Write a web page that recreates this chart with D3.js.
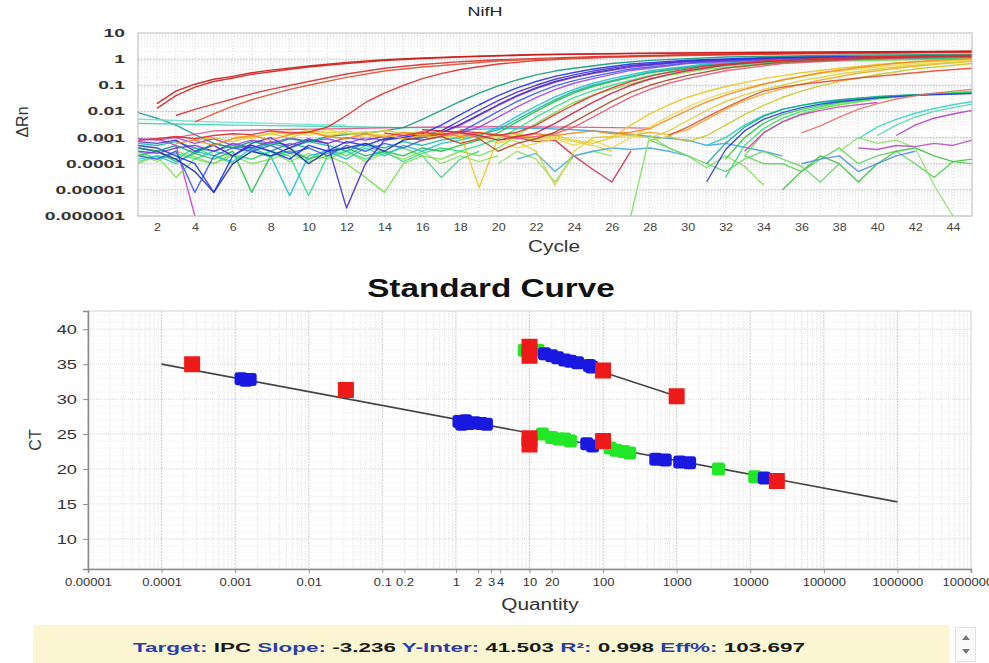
<!DOCTYPE html>
<html>
<head>
<meta charset="utf-8">
<script src="https://cdn.jsdelivr.net/npm/d3@7"></script>
<style>
  body { margin: 0; background: #fff; }
  svg { display: block; font-family: "Liberation Sans", Arial, sans-serif; }
</style>
</head>
<body>
<svg id="chart" width="989" height="663"></svg>
<script>
(function(){

  //---- amplification plot data: [cycle, deltaRn] per well ----
  var ampRuns = [
    [[1,2.5e-4],[2,1.2e-4],[3,3e-4],[4,1.8e-4],[5,1e-4],[6,2.5e-4],[7,1.5e-4],[8,3e-4],[9,1.2e-4],[10,2.5e-4],[11,1.5e-4],[12,3e-4],[13,1.2e-4],[14,2.5e-4],[15,1.5e-4],[16,3e-4],[17,1e-4],[18,2e-4],[19,1.2e-4],[20,2e-4]],
    [[1,1.2e-4],[2,2e-4],[3,1.5e-4],[4,4e-4],[5,2e-4],[6,1e-4],[7,3e-4],[8,1.8e-4],[9,4e-4],[10,1.5e-4],[11,3.5e-4],[12,2e-4],[13,5e-4],[14,2.5e-4],[15,4e-4],[16,2e-4],[17,3e-5],[18,1.5e-4],[19,3e-4]],
    [[1,8e-4],[2,9e-4],[3,5e-4],[4,1e-6]],
    [[1,9e-3],[2,5.5e-3],[3,3e-3],[4,1.3e-3],[5,6e-4],[6,4e-4],[7,5e-4],[8,3e-4],[9,6e-4],[10,4e-4]],
    [[1,5e-3],[2,4.8e-3],[4,4.2e-3],[6,3.8e-3],[8,3.5e-3],[10,3.2e-3],[12,3e-3]],
    [[1,3.5e-3],[3,3.3e-3],[6,3e-3],[9,2.8e-3],[12,2.6e-3],[15,2.4e-3],[18,2.4e-3]],
    [[3,1e-3],[5,1.8e-3],[8,2e-3],[12,2.2e-3],[16,2.5e-3],[20,2.6e-3],[24,2.5e-3],[28,2.3e-3]],
    [[20,8e-4],[21,1e-3],[22,7e-4],[23,8e-4],[24,2e-4],[25,6e-5],[26,2e-5],[27,3e-4]],
    [[18,2e-3],[20,2.2e-3],[22,2.3e-3],[24,2e-3],[26,1.6e-3],[28,1.1e-3],[30,8e-4],[31,5e-4],[32,6e-4],[34,3e-4],[35,2e-4]],
    [[16,1e-3],[17,1.3e-3],[18,9e-4],[19,1.1e-3],[20,6e-4],[21,1.2e-3],[22,8e-4],[23,1e-3],[24,7e-4],[25,5e-4],[26,3e-4]],
    [[20,1e-4],[21,3e-4],[22,1.5e-4],[23,2e-5],[24,2e-4],[25,3e-4],[26,2e-4]],
    [[21,1.5e-4],[22,2.5e-4],[23,5e-5],[24,2e-4],[25,3e-4],[26,4e-4],[27,3.5e-4],[28,4e-4],[29,3e-4],[30,2e-4]],
    [[27,1e-6],[28,1.2e-3],[29,4e-4],[30,2e-4],[31,7e-5],[32,2e-4],[33,8e-5],[34,1.5e-5]],
    [[33,2e-4],[34,1e-4],[35,1e-4],[36,5e-5],[37,1.5e-4],[38,4e-4],[39,1e-4],[40,2e-4],[41,3e-4],[42,1e-4],[43,3e-5],[44,1.2e-4],[45,1e-4]],
    [[35,1e-5],[36,5e-5],[37,2e-4],[38,1e-4],[39,2e-5],[40,1e-4],[41,3e-4],[42,4e-4],[43,2e-4],[44,1.2e-4],[45,1.5e-4]],
    [[38,3e-4],[39,1e-3],[40,6e-4],[41,8e-4],[42,4e-4],[43,1.5e-5],[44,1e-6]],
    [[28,8e-4],[29,4e-4],[30,2e-4],[31,1e-4],[32,5e-5],[33,1.5e-4],[34,3e-4],[35,1.5e-4],[36,8e-5],[37,2e-5],[38,1e-4],[39,2e-5]],
    [[39,4e-4],[40,3.5e-4],[41,5e-4],[42,4.5e-4],[43,6e-4],[44,5e-4],[45,8e-4]],
    [[36,1e-4],[37,1.5e-4],[38,2e-4],[39,5e-5],[40,1e-4],[41,2e-4],[42,3e-4]],
    [[1,1e-4],[2,2e-4],[3,3e-5],[4,1.5e-4],[5,1e-4],[6,2e-4],[7,1e-4],[8,1.5e-4],[9,2.5e-4],[10,1.2e-4],[11,2e-4],[12,1e-4],[13,3e-5],[14,8e-6],[15,1e-4],[16,2e-4],[17,1.5e-4],[18,3e-4],[19,2e-4],[20,4e-4],[21,1.2e-3],[22,3.5e-3],[23,.009],[24,.022],[25,.042],[26,.07],[28,.18],[31,.42],[36,.8],[45,1.05]],
    [[1,3e-4],[2,1.5e-4],[3,2.5e-4],[4,1.5e-4],[5,3e-4],[6,2e-4],[7,1.5e-4],[8,3e-4],[9,2e-4],[10,6e-6],[11,2e-4],[12,3e-4],[13,1.5e-4],[14,3e-4],[15,1.2e-4],[16,2.5e-4],[17,4e-4],[18,3e-4],[19,5e-4],[20,9e-4],[21,2.2e-3],[22,6e-3],[23,.015],[24,.034],[25,.062],[26,.1],[28,.24],[31,.5],[36,.88],[45,1.1]],
    [[1,2e-4],[2,3e-4],[3,1.2e-4],[4,2.5e-4],[5,1.5e-4],[6,3e-4],[7,8e-6],[8,2e-4],[9,3e-4],[10,1.5e-4],[11,2.5e-4],[12,4e-4],[13,2e-4],[14,3e-4],[15,2e-4],[16,4e-4],[17,3e-4],[18,5e-4],[19,8e-4],[20,1.5e-3],[21,4e-3],[22,.01],[23,.024],[24,.05],[25,.09],[26,.14],[28,.3],[31,.58],[36,.95],[45,1.15]],
    [[1,1.5e-4],[2,2e-4],[3,1e-4],[4,3e-4],[5,2e-4],[6,1.2e-4],[7,4e-4],[8,2e-4],[9,6e-6],[10,2e-4],[11,3e-4],[12,1.5e-4],[13,4e-4],[14,2e-4],[15,5e-4],[16,3e-4],[17,6e-4],[18,8e-4],[19,1.2e-3],[20,2.5e-3],[21,6.5e-3],[22,.016],[23,.036],[24,.07],[25,.12],[26,.18],[28,.36],[31,.65],[36,1.0],[45,1.2]],
    [[1,6e-4],[2,5e-4],[3,7e-4],[4,4e-4],[5,3e-4],[6,5e-4],[7,3.5e-4],[8,6e-4],[9,4e-4],[10,7e-4],[11,5e-4],[12,3e-4],[13,6e-4],[14,4e-4],[15,7e-4],[16,5e-4],[17,8e-4],[18,1e-3],[19,1.3e-3],[20,2e-3],[21,5e-3],[22,.012],[23,.028],[24,.058],[25,.1],[26,.15],[28,.32],[31,.6],[36,.97],[45,1.2]],
    [[1,4e-4],[2,3e-4],[3,1.5e-4],[4,5e-5],[5,8e-6],[6,1e-4],[7,3e-4],[8,2e-4],[9,4e-4],[10,1e-4],[11,3e-4],[12,4e-4],[13,6e-4],[14,3e-4],[15,8e-4],[16,1e-3],[17,1.5e-3],[18,3.2e-3],[19,7.5e-3],[20,.018],[21,.04],[22,.08],[23,.14],[24,.21],[25,.3],[27,.52],[30,.82],[35,1.12],[45,1.3]],
    [[1,9e-4],[2,8e-4],[3,1e-3],[4,6e-4],[5,9e-4],[6,5e-4],[7,8e-4],[8,6e-4],[9,1e-3],[10,7e-4],[11,9e-4],[12,6e-4],[13,1e-3],[14,8e-4],[15,1.2e-3],[16,1e-3],[17,1.3e-3],[18,1.5e-3],[19,2.5e-3],[20,6e-3],[21,.015],[22,.034],[23,.068],[24,.12],[25,.18],[27,.37],[30,.68],[35,1.0],[45,1.25]],
    [[1,2e-4],[2,1.5e-4],[3,3e-4],[4,8e-6],[5,2e-4],[6,4e-4],[7,3e-4],[8,5e-4],[9,2.5e-4],[10,4e-4],[11,2e-4],[12,5e-4],[13,3e-4],[14,6e-4],[15,4e-4],[16,8e-4],[17,1.1e-3],[18,1.6e-3],[19,4e-3],[20,.01],[21,.024],[22,.05],[23,.095],[24,.15],[25,.22],[27,.42],[30,.72],[35,1.05],[45,1.25]],
    [[1,3e-4],[2,2.5e-4],[3,4e-4],[4,5e-4],[5,3e-4],[6,6e-4],[7,4e-4],[8,7e-4],[9,5e-4],[10,9e-4],[11,6e-4],[12,1e-3],[13,8e-4],[14,1.1e-3],[15,9e-4],[16,1.2e-3],[17,1.5e-3],[18,3e-3],[19,7e-3],[20,.017],[21,.038],[22,.075],[23,.13],[24,.2],[25,.28],[27,.5],[30,.8],[35,1.1],[45,1.3]],
    [[1,7e-4],[2,6e-4],[3,8e-4],[4,3e-4],[5,5e-4],[6,2e-4],[7,6e-4],[8,1e-3],[9,4e-4],[10,8e-4],[11,6e-4],[12,2e-6],[13,1e-4],[14,8e-4],[15,1e-3],[16,1.2e-3],[17,1.8e-3],[18,4.5e-3],[19,.011],[20,.026],[21,.055],[22,.1],[23,.17],[24,.25],[25,.35],[27,.58],[30,.85],[35,1.15],[45,1.3]],
    [[1,5e-4],[2,4e-4],[3,2e-4],[4,1e-4],[5,8e-6],[6,2e-4],[7,5e-4],[8,3e-4],[9,1.5e-4],[10,5e-4],[11,3e-4],[12,7e-4],[13,5e-4],[14,9e-4],[15,1e-3],[16,1.4e-3],[17,3e-3],[18,7.5e-3],[19,.018],[20,.04],[21,.08],[22,.14],[23,.22],[24,.31],[25,.42],[27,.65],[30,.92],[35,1.2],[45,1.35]],
    [[1,4e-4],[2,3e-4],[3,5e-4],[4,2.5e-4],[5,6e-4],[6,4e-4],[7,7e-4],[8,5e-4],[9,9e-4],[10,7e-4],[11,1.1e-3],[12,1.3e-3],[13,1.5e-3],[14,1.8e-3],[15,2.4e-3],[16,5e-3],[17,.011],[18,.024],[19,.05],[20,.095],[21,.16],[22,.25],[23,.35],[24,.45],[26,.68],[28,.9],[32,1.2],[38,1.4],[45,1.5]],
    [[41,1.2e-3],[42,3e-3],[43,5.5e-3],[44,8e-3],[45,.011]],
    [[39,9e-4],[40,2.5e-3],[41,5e-3],[42,8.5e-3],[43,.013],[44,.018],[45,.024]],
    [[40,1.2e-3],[41,3e-3],[42,6e-3],[43,.01],[44,.014],[45,.019]],
    [[33,2e-4],[34,1.5e-3],[35,4e-3],[36,8e-3],[37,.013],[38,.018],[40,.03],[42,.042],[45,.058]],
    [[31,5e-4],[32,1e-3],[33,3e-3],[34,7e-3],[35,.012],[36,.017],[37,.022],[39,.032],[41,.04],[43,.046],[45,.05]],
    [[32,3e-5],[33,5e-4],[34,2.2e-3],[35,5.5e-3],[36,.01],[37,.015],[38,.021],[40,.032],[42,.042],[45,.055]],
    [[32,1.5e-4],[33,1e-3],[34,3.5e-3],[35,7.5e-3],[36,.012],[37,.017],[38,.023],[40,.034],[42,.043],[45,.052]],
    [[31,1e-4],[32,6e-4],[33,2.5e-3],[34,6.5e-3],[35,.012],[36,.017],[37,.023],[38,.028],[40,.037],[42,.044],[45,.05]],
    [[31,2e-5],[32,3.5e-4],[33,1.8e-3],[34,5e-3],[35,9e-3],[36,.014],[37,.019],[38,.024],[40,.033],[42,.041],[45,.048]],
    [[33,3e-4],[34,1.5e-3],[35,4e-3],[36,7.5e-3],[37,.011],[38,.015],[40,.022]],
    [[36,1.5e-3],[37,2.8e-3],[38,6e-3],[39,.012],[40,.02],[41,.03],[42,.04],[43,.05],[45,.07]],
    [[28,8e-4],[29,1.1e-3],[30,7e-4],[31,1.2e-3],[32,3e-3],[33,7.5e-3],[34,.017],[35,.034],[36,.06],[37,.095],[38,.14],[40,.26],[42,.42],[45,.68]],
    [[26,1.5e-3],[27,1.2e-3],[28,1.6e-3],[29,1.3e-3],[30,2e-3],[31,5e-3],[32,.012],[33,.026],[34,.046],[35,.075],[36,.11],[37,.16],[39,.29],[41,.45],[43,.64],[45,.82]],
    [[8,1.6e-3],[9,1.3e-3],[10,2e-3],[11,1.5e-3],[12,1.8e-3],[13,1.3e-3],[14,1.9e-3],[15,1.4e-3],[16,1.7e-3],[17,1.2e-3],[18,1.5e-3],[19,9e-4],[20,1.2e-3],[21,7e-4],[22,3e-4],[23,1.5e-5],[24,3e-4],[25,1e-3],[27,1.2e-3],[28,1e-3],[29,1.8e-3],[30,4.5e-3],[31,.011],[32,.024],[33,.043],[34,.07],[35,.1],[36,.15],[38,.27],[40,.42],[42,.6],[45,.85]],
    [[6,1.2e-3],[7,9e-4],[8,1.5e-3],[9,1.8e-3],[10,1.2e-3],[11,2e-3],[12,1.4e-3],[13,1.7e-3],[14,1.1e-3],[15,1.5e-3],[16,1.3e-3],[17,1.6e-3],[18,1.1e-3],[19,1.3e-3],[20,8e-4],[21,4e-4],[22,6e-4],[23,9e-4],[24,5e-4],[25,8e-4],[26,4e-4],[27,1e-3],[28,2.6e-3],[29,6.5e-3],[30,.015],[31,.03],[32,.052],[33,.08],[35,.16],[37,.28],[39,.42],[41,.6],[43,.78],[45,.92]],
    [[4,8e-4],[5,1e-3],[6,7e-4],[7,1.1e-3],[8,1.4e-3],[9,1e-3],[10,1.6e-3],[11,1.2e-3],[12,1.5e-3],[13,1e-3],[14,1.3e-3],[15,9e-4],[16,1.2e-3],[17,1e-3],[18,1.4e-3],[19,1.2e-5],[20,1e-3],[21,1.4e-3],[22,9e-4],[23,1.2e-3],[24,8e-4],[25,6e-4],[26,1e-3],[27,3e-3],[28,8e-3],[29,.018],[30,.035],[31,.058],[32,.09],[34,.18],[36,.3],[38,.45],[40,.62],[42,.8],[45,1.0]],
    [[3,6e-4],[4,8e-4],[5,5e-4],[6,9e-4],[7,1.2e-3],[8,8e-4],[9,1.3e-3],[10,1.7e-3],[11,1.1e-3],[12,9e-4],[13,1.4e-3],[14,1e-3],[15,1.6e-3],[16,1.2e-3],[17,1.5e-3],[18,1.1e-3],[19,1.6e-3],[20,1.3e-3],[21,1e-3],[22,1.4e-3],[23,1.2e-3],[24,1.5e-3],[25,1.8e-3],[26,1.4e-3],[27,1.6e-3],[28,2.2e-3],[29,5e-3],[30,.011],[31,.023],[32,.042],[33,.07],[34,.11],[35,.16],[37,.3],[39,.48],[41,.7],[43,.9],[45,1.05]],
    [[29,1.2e-3],[30,2.5e-3],[31,6e-3],[32,.014],[33,.03],[34,.06],[35,.085],[36,.108],[37,.13],[39,.19],[41,.26],[43,.35],[45,.45]],
    [[17,1.2e-3],[18,1.5e-3],[19,1e-3],[20,1.3e-3],[21,9e-4],[22,1.1e-3],[23,1.4e-3],[24,2.5e-3],[25,6e-3],[26,.015],[27,.035],[28,.07],[29,.12],[30,.18],[32,.36],[35,.68],[40,1.05],[45,1.25]],
    [[15,1e-3],[16,8e-4],[17,1.1e-3],[18,6e-4],[19,9e-4],[20,3e-4],[21,6e-4],[22,9e-4],[23,1.6e-3],[24,4e-3],[25,.01],[26,.025],[27,.055],[28,.1],[29,.16],[30,.24],[32,.45],[35,.78],[40,1.1],[45,1.3]],
    [[16,2e-3],[18,1.6e-3],[19,1.2e-3],[20,8e-4],[21,1.1e-3],[22,1.5e-3],[23,3.5e-3],[24,9e-3],[25,.022],[26,.05],[27,.1],[28,.17],[29,.26],[30,.36],[32,.6],[35,.9],[40,1.2],[45,1.35]],
    [[14,1.5e-3],[15,1.2e-3],[16,1.6e-3],[17,1.3e-3],[18,1.8e-3],[19,1.5e-3],[20,1.2e-3],[21,1.6e-3],[22,3e-3],[23,7.5e-3],[24,.018],[25,.04],[26,.08],[27,.14],[28,.22],[29,.32],[31,.55],[34,.85],[39,1.2],[45,1.4]],
    [[1,8e-4],[2,9e-4],[3,1.1e-3],[4,9e-4],[5,1.2e-3],[6,1.4e-3],[7,1.3e-3],[8,1.8e-3],[9,1.5e-3],[10,1.6e-3],[11,2.5e-3],[12,7e-3],[13,.022],[14,.05],[15,.1],[16,.18],[17,.28],[18,.4],[20,.65],[22,.88],[24,1.05],[27,1.27],[30,1.45],[36,1.7],[45,1.95]],
    [[4,.004],[5,.008],[6,.016],[7,.028],[8,.045],[9,.07],[10,.1],[12,.2],[14,.35],[16,.5],[18,.65],[20,.85],[25,1.15],[30,1.38],[35,1.55],[45,1.8]],
    [[3,.007],[4,.012],[5,.019],[6,.03],[7,.047],[8,.07],[10,.14],[12,.27],[14,.45],[16,.62],[18,.8],[20,.95],[25,1.25],[30,1.47],[35,1.65],[45,1.9]],
    [[2,.013],[3,.04],[4,.085],[5,.14],[6,.19],[7,.26],[8,.33],[10,.5],[12,.68],[14,.88],[16,1.05],[18,1.2],[22,1.45],[26,1.6],[30,1.7],[45,1.95]],
    [[2,.02],[3,.06],[4,.11],[5,.17],[6,.22],[7,.3],[8,.38],[10,.55],[12,.75],[14,.95],[16,1.1],[18,1.25],[22,1.5],[28,1.7],[35,1.85],[45,2.0]]
  ];
  //well colours, same order as ampRuns
  var ampColors = ["#8ce05a","#50d080","#d040c8","#20a0a0","#70e0d0","#40d0b0","#e0508a","#d03050","#40a0e0","#e0d040",
    "#90e070","#4aa8e0","#80e060","#60d060","#40c040","#90e070","#70d070","#b050c0","#4a90e0","#78e050",
    "#35e08a","#22c048","#22c2cc","#1eb4a0","#1a2aa8","#9a48e0","#3c5af0","#7a35d8","#4a2ad0","#2233e6",
    "#129a7c","#b040c0","#3cd0c0","#50d8a8","#60e040","#20d0b0","#3ae070","#2ec84a","#18a890","#2a3ae0",
    "#d838b8","#e07060","#c8c830","#f0a828","#d8d038","#f0d850","#e8c828","#f08a20","#e05030","#e05a80",
    "#b04a2a","#c82048","#e03030","#e02828","#e05030","#d83030","#d42020","#c81818"];

  var cycleTicks = [2,4,6,8,10,12,14,16,18,20,22,24,26,28,30,32,34,36,38,40,42,44];
  var rnTicks = [1e-6,1e-5,1e-4,1e-3,1e-2,1e-1,1,10];
  var rnLabels = ["0.000001","0.00001","0.0001","0.001","0.01","0.1","1","10"];

  //---- standard curve data: [quantity, Ct] ----
  var standardPts = [[0.00026,35.0],[0.032,31.3],[10,24.4],[10,23.5],[100,24.0],[23000,18.3],
                     [10,37.5],[10,36.2],[100,34.1],[1000,30.4]];
  var unknownPts = [[0.0012,32.9],[0.0014,32.7],[0.0016,32.8],[1.1,26.8],[1.2,26.4],[1.35,26.9],[1.5,26.5],
                    [1.8,26.6],[2.2,26.5],[2.6,26.4],[60,23.6],[72,23.3],[520,21.4],[700,21.3],[1100,21.0],
                    [1500,20.9],[15500,18.7],
                    [16,36.5],[20,36.2],[24,35.9],[30,35.6],[36,35.4],[45,35.2],[65,34.8],[70,34.6]];
  var controlPts = [[15,25.0],[20,24.5],[25,24.3],[30,24.3],[36,24.0],[125,23.0],[150,22.7],[190,22.5],
                    [230,22.3],[3700,20.0],[11500,18.9],[8.5,37.0],[13,37.0]];
  var fitLines = [[[1e-4,35.0],[1e6,15.3]], [[10,37.3],[1000,30.4]]];

  var qtyTicks = [1e-5,1e-4,1e-3,0.01,0.1,0.2,1,2,3,4,10,20,100,1000,1e4,1e5,1e6,1e7];
  var qtyLabels = ["0.00001","0.0001","0.001","0.01","0.1","0.2","1","2","3","4","10","20","100","1000","10000","100000","1000000","10000000"];
  var ctTicks = [10,15,20,25,30,35,40];

  var resultLabels = ["Target:","Slope:","Y-Inter:","R\u00b2:","Eff%:"];
  var resultValues = ["IPC","-3.236","41.503","0.998","103.697"];

  var svg = d3.select("#chart");

  //stretch text horizontally (the source picture is widened)
  function widen(sel, k){
    sel.each(function(){
      var w = this.getComputedTextLength();
      d3.select(this).attr("textLength", w * k).attr("lengthAdjust", "spacingAndGlyphs");
    });
  }

  //================ amplification plot ================
  var a = {left: 138, right: 972, top: 33, bottom: 216};
  var xCyc = d3.scaleLinear().domain([1, 45]).range([a.left, a.right]);
  var yRn = d3.scaleLog().domain([1e-6, 10]).range([a.bottom, a.top]);

  var amp = svg.append("g").attr("class", "amp");

  //grid
  var grid = amp.append("g");
  grid.selectAll(".vg").data(d3.range(1, 46)).enter().append("line")
    .attr("x1", function(d){ return xCyc(d); }).attr("x2", function(d){ return xCyc(d); })
    .attr("y1", a.top).attr("y2", a.bottom)
    .attr("stroke", "#d9d9d9").attr("stroke-dasharray", "1,2");
  var minor = [];
  for (var e = -6; e <= 0; e++){
    for (var k = 1; k <= 9; k++){ minor.push(k * Math.pow(10, e)); }
  }
  grid.selectAll(".hg").data(minor).enter().append("line")
    .attr("x1", a.left).attr("x2", a.right)
    .attr("y1", function(d){ return yRn(d); }).attr("y2", function(d){ return yRn(d); })
    .attr("stroke", function(d, i){ return i % 9 == 0 ? "#c4c4c4" : "#e2e2e2"; })
    .attr("stroke-dasharray", function(d, i){ return i % 9 == 0 ? "2,1" : "1,2"; });

  svg.append("clipPath").attr("id", "ampClip").append("rect")
    .attr("x", a.left).attr("y", a.top).attr("width", a.right - a.left).attr("height", a.bottom - a.top);

  var rnLine = d3.line()
    .x(function(d){ return xCyc(d[0]); })
    .y(function(d){ return yRn(d[1]); });

  amp.append("g").attr("clip-path", "url(#ampClip)")
    .selectAll(".run").data(ampRuns).enter().append("path")
    .attr("class", "run")
    .attr("d", rnLine)
    .attr("fill", "none")
    .attr("stroke", function(d, i){ return ampColors[i]; })
    .attr("stroke-width", 1.4)
    .attr("stroke-linejoin", "round")
    .attr("stroke-opacity", 0.9);

  amp.append("rect")
    .attr("x", a.left).attr("y", a.top).attr("width", a.right - a.left).attr("height", a.bottom - a.top)
    .attr("fill", "none").attr("stroke", "#bdbdbd");

  var xA = amp.append("g").attr("transform", "translate(0," + a.bottom + ")")
    .call(d3.axisBottom(xCyc).tickValues(cycleTicks).tickSize(0).tickPadding(8));
  xA.select(".domain").remove();
  xA.selectAll("text").attr("font-size", 10).attr("fill", "#444").attr("font-family", "Liberation Sans, Arial");
  widen(xA.selectAll("text"), 1.25);

  var yA = amp.append("g").attr("transform", "translate(" + a.left + ",0)")
    .call(d3.axisLeft(yRn).tickValues(rnTicks).tickSize(0).tickPadding(13)
      .tickFormat(function(d, i){ return rnLabels[i]; }));
  yA.select(".domain").remove();
  yA.selectAll("text").attr("font-size", 11).attr("font-weight", "bold").attr("fill", "#333")
    .attr("font-family", "Liberation Sans, Arial");
  widen(yA.selectAll("text"), 1.75);

  var t1 = amp.append("text").attr("x", 485).attr("y", 16).attr("text-anchor", "middle")
    .attr("font-size", 12).attr("fill", "#222").text("NifH");
  widen(t1, 1.5);
  var t2 = amp.append("text").attr("x", 554).attr("y", 252).attr("text-anchor", "middle")
    .attr("font-size", 16).attr("fill", "#333").text("Cycle");
  widen(t2, 1.3);
  amp.append("text").attr("transform", "translate(28,122) rotate(-90)").attr("text-anchor", "middle")
    .attr("font-size", 16).attr("fill", "#333").text("\u0394Rn");

  //================ standard curve ================
  var s = {left: 88, right: 971, top: 311, bottom: 569};
  var xQ = d3.scaleLog().domain([1e-5, 1e7]).range([s.left, s.right]);
  var yCt = d3.scaleLinear().domain([5.7, 42.6]).range([s.bottom, s.top]);

  var std = svg.append("g").attr("class", "std");
  var sg = std.append("g");
  var qMinor = [];
  for (var e2 = -5; e2 < 7; e2++){
    for (var k2 = 1; k2 <= 9; k2++){ qMinor.push(k2 * Math.pow(10, e2)); }
  }
  sg.selectAll(".qg").data(qMinor).enter().append("line")
    .attr("x1", function(d){ return xQ(d); }).attr("x2", function(d){ return xQ(d); })
    .attr("y1", s.top).attr("y2", s.bottom)
    .attr("stroke", function(d, i){ return i % 9 == 0 ? "#c8c8c8" : "#e3e3e3"; })
    .attr("stroke-dasharray", function(d, i){ return i % 9 == 0 ? "2,1" : "1,1"; });
  sg.selectAll(".cg").data(d3.range(6, 43)).enter().append("line")
    .attr("x1", s.left).attr("x2", s.right)
    .attr("y1", function(d){ return yCt(d); }).attr("y2", function(d){ return yCt(d); })
    .attr("stroke", function(d){ return d % 5 == 0 ? "#d6d6d6" : "#efefef"; })
    .attr("stroke-dasharray", "1,1");

  std.append("rect")
    .attr("x", s.left).attr("y", s.top).attr("width", s.right - s.left).attr("height", s.bottom - s.top)
    .attr("fill", "none").attr("stroke", "#cfcfcf");

  var fitPath = d3.line().x(function(d){ return xQ(d[0]); }).y(function(d){ return yCt(d[1]); });
  std.selectAll(".fit").data(fitLines).enter().append("path")
    .attr("d", fitPath).attr("fill", "none").attr("stroke", "#444").attr("stroke-width", 1.6);

  function drawPts(data, fill, size, r){
    std.append("g").selectAll("rect").data(data).enter().append("rect")
      .attr("x", function(d){ return xQ(d[0]) - size / 2; })
      .attr("y", function(d){ return yCt(d[1]) - size / 2; })
      .attr("width", size).attr("height", size).attr("rx", r)
      .attr("fill", fill);
  }
  drawPts(controlPts, "#22e628", 13, 2.5);
  drawPts(unknownPts, "#1818e0", 13, 3);
  drawPts(standardPts, "#ee1a1a", 16, 0.5);

  var qA = std.append("g").attr("transform", "translate(0," + s.bottom + ")")
    .call(d3.axisBottom(xQ).tickValues(qtyTicks).tickSize(4).tickPadding(6)
      .tickFormat(function(d, i){ return qtyLabels[i]; }));
  qA.select(".domain").attr("stroke", "#8c8c8c").attr("stroke-width", 1.5);
  qA.selectAll("line").attr("stroke", "#8c8c8c");
  qA.selectAll("text").attr("font-size", 10).attr("fill", "#333").attr("font-family", "Liberation Sans, Arial");
  widen(qA.selectAll("text"), 1.3);

  var cA = std.append("g").attr("transform", "translate(" + s.left + ",0)")
    .call(d3.axisLeft(yCt).tickValues(ctTicks).tickSize(5).tickPadding(6));
  cA.select(".domain").attr("stroke", "#8c8c8c").attr("stroke-width", 1.5);
  cA.selectAll("line").attr("stroke", "#8c8c8c");
  cA.selectAll("text").attr("font-size", 13).attr("fill", "#333").attr("font-family", "Liberation Sans, Arial");
  widen(cA.selectAll("text"), 1.4);

  var t3 = std.append("text").attr("x", 491).attr("y", 297).attr("text-anchor", "middle")
    .attr("font-size", 25).attr("font-weight", "bold").attr("fill", "#111").text("Standard Curve");
  widen(t3, 1.33);
  var t4 = std.append("text").attr("x", 540).attr("y", 610).attr("text-anchor", "middle")
    .attr("font-size", 16).attr("fill", "#333").text("Quantity");
  widen(t4, 1.3);
  std.append("text").attr("transform", "translate(41,440) rotate(-90)").attr("text-anchor", "middle")
    .attr("font-size", 16).attr("fill", "#333").text("CT");

  //================ result bar ================
  var bar = svg.append("g");
  bar.append("rect").attr("x", 33).attr("y", 625).attr("width", 917).attr("height", 40)
    .attr("fill", "#fcf7d2");
  bar.append("rect").attr("x", 955.5).attr("y", 627.5).attr("width", 20).attr("height", 34)
    .attr("fill", "#fafafa").attr("stroke", "#e2e2e2");
  bar.append("path").attr("d", "M962,640 L966,635 L970,640 Z").attr("fill", "#777");
  bar.append("path").attr("d", "M962,649 L966,654 L970,649 Z").attr("fill", "#777");

  var res = bar.append("text").attr("x", 133).attr("y", 652)
    .attr("font-size", 13).attr("font-weight", "bold");
  resultLabels.forEach(function(lab, i){
    res.append("tspan").attr("fill", "#2a3ea6").text((i > 0 ? "  " : "") + lab + " ");
    res.append("tspan").attr("fill", "#1a1a1a").text(resultValues[i]);
  });
  res.attr("textLength", 672).attr("lengthAdjust", "spacingAndGlyphs");

})();
</script>
</body>
</html>
